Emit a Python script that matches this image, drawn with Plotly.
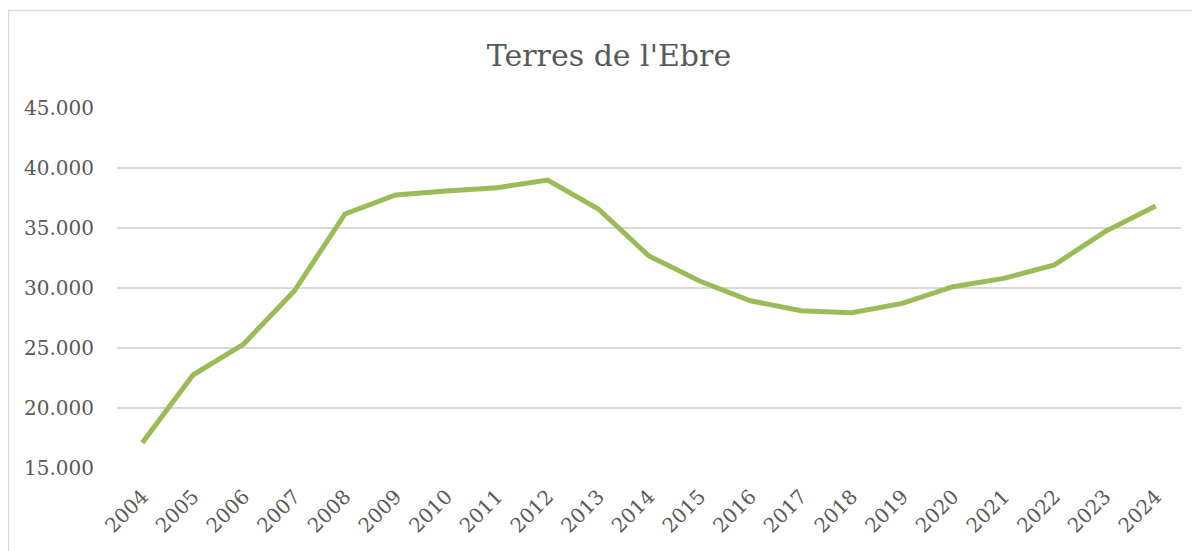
import plotly.graph_objects as go

years = [str(y) for y in range(2004, 2025)]
values = [17100, 22750, 25330, 29750, 36170, 37750, 38080, 38360, 39000, 36580,
          32670, 30580, 28940, 28110, 27940, 28720, 30110, 30800, 31920, 34700, 36830]
y_ticks = [15000, 20000, 25000, 30000, 35000, 40000, 45000]
y_tick_labels = ["15.000", "20.000", "25.000", "30.000", "35.000", "40.000", "45.000"]

# page body has an 8px margin, so the figure is placed at (8, 8) on screen
W, H = 1192, 543
L, R, T, B = 109, 19, 100, 83
pw, ph = W - L - R, H - T - B

fig = go.Figure()
fig.add_trace(go.Scatter(
    x=years, y=values, mode="lines",
    line=dict(color="#9BBB59", width=5, shape="linear"),
    hoverinfo="x+y", showlegend=False,
))

# outer chart border (light gray), expressed in paper coordinates
bx0 = (0.5 - L) / pw
bx1 = (W + 10 - L) / pw
by1 = 1 + (T - 2.5) / ph
by0 = -(B + 10) / ph
fig.add_shape(type="rect", xref="paper", yref="paper",
              x0=bx0, x1=bx1, y0=by0, y1=by1,
              line=dict(color="#d9d9d9", width=1.5), fillcolor="rgba(0,0,0,0)",
              layer="below")

fig.update_layout(
    width=W, height=H,
    margin=dict(l=L, r=R, t=T, b=B, autoexpand=False),
    paper_bgcolor="white", plot_bgcolor="white",
    title=dict(text="Terres de l'Ebre", x=601 / W, xanchor="center",
               y=1 - 47 / H, yanchor="middle", yref="container",
               font=dict(family="DejaVu Serif", size=30, color="#595959")),
    font=dict(family="DejaVu Serif", color="#595959"),
    xaxis=dict(type="category", range=[-0.5, 20.5], showgrid=False,
               showline=False, zeroline=False, ticks="",
               tickangle=-45, ticklabelstandoff=12,
               tickfont=dict(size=20, color="#595959", family="DejaVu Serif")),
    yaxis=dict(range=[15000, 45000], tickvals=y_ticks, ticktext=y_tick_labels,
               showgrid=True, gridcolor="#d9d9d9", gridwidth=1.5,
               zeroline=False, showline=False, ticks="",
               ticklabelstandoff=22,
               tickfont=dict(size=20, color="#595959", family="DejaVu Serif")),
)

fig.write_html("out.html")
